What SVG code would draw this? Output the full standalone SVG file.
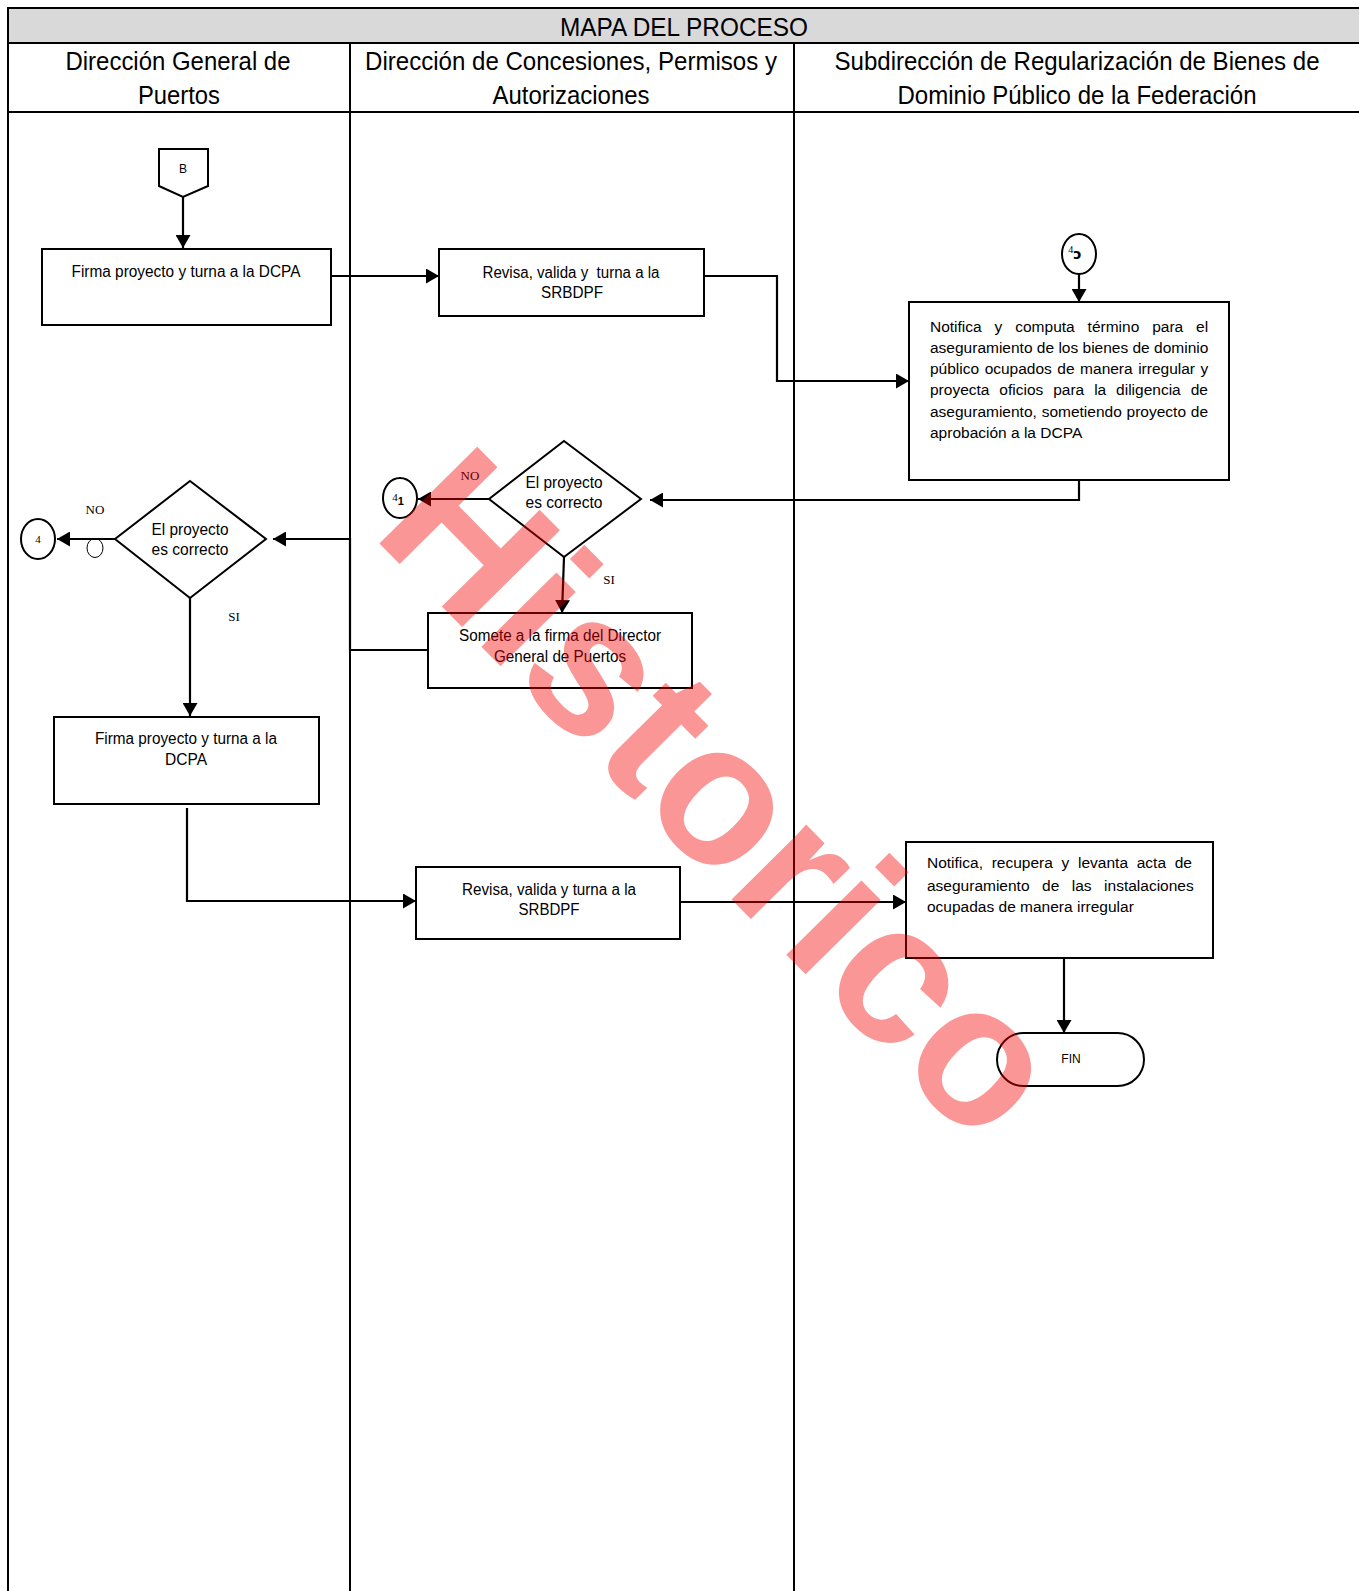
<svg xmlns="http://www.w3.org/2000/svg" width="1359" height="1591" viewBox="0 0 1359 1591">
<style>
.hdr{font-family:"Liberation Sans Narrow","Liberation Sans",Arial,sans-serif;font-size:26px;fill:#000;text-anchor:middle}
.t{font-family:"Liberation Sans Narrow","Liberation Sans",Arial,sans-serif;font-size:16px;fill:#000;text-anchor:middle}
.tl{font-family:"Liberation Sans",Arial,sans-serif;font-size:15.5px;fill:#000}
.sm{font-family:"Liberation Sans",Arial,sans-serif;font-size:12px;fill:#000;text-anchor:middle}
.lbl{font-family:"Liberation Serif","Times New Roman",serif;font-size:13px;fill:#000;text-anchor:middle}
.box{fill:#fff;stroke:#000;stroke-width:2}
.lane{fill:none;stroke:#000;stroke-width:2}
.con{fill:none;stroke:#000;stroke-width:2.2}
.wm{font-family:"Liberation Sans",Arial,sans-serif;font-weight:bold;font-size:200px;fill:#f20000;fill-opacity:0.41}
</style>
<defs>
<marker id="ah" markerUnits="userSpaceOnUse" markerWidth="14" markerHeight="15" refX="13" refY="7.5" orient="auto">
<path d="M0,0 L13,7.5 L0,15 z" fill="#000"/>
</marker>
</defs>
<rect x="0" y="0" width="1359" height="1591" fill="#fff"/>
<g id="table">
<rect x="8" y="8" width="1351" height="35" fill="#d9d9d9"/>
<line class="lane" x1="7" y1="8" x2="1359" y2="8"/>
<line class="lane" x1="8" y1="43" x2="1359" y2="43"/>
<line class="lane" x1="8" y1="8" x2="8" y2="1591"/>
<line class="lane" x1="350" y1="43" x2="350" y2="1591"/>
<line class="lane" x1="794" y1="43" x2="794" y2="1591"/>
<line class="lane" x1="8" y1="112" x2="1359" y2="112"/>
<text class="hdr" x="684" y="36" textLength="248" lengthAdjust="spacingAndGlyphs">MAPA DEL PROCESO</text>
<text class="hdr" x="178" y="70" textLength="225" lengthAdjust="spacingAndGlyphs">Dirección General de</text>
<text class="hdr" x="179" y="104" textLength="82" lengthAdjust="spacingAndGlyphs">Puertos</text>
<text class="hdr" x="571" y="70" textLength="412" lengthAdjust="spacingAndGlyphs">Dirección de Concesiones, Permisos y</text>
<text class="hdr" x="571" y="104" textLength="157" lengthAdjust="spacingAndGlyphs">Autorizaciones</text>
<text class="hdr" x="1077" y="70" textLength="485" lengthAdjust="spacingAndGlyphs">Subdirección de Regularización de Bienes de</text>
<text class="hdr" x="1077" y="104" textLength="359" lengthAdjust="spacingAndGlyphs">Dominio Público de la Federación</text>
</g>
<g id="connectors">
<path class="con" d="M183,197 L183,248" marker-end="url(#ah)"/>
<path class="con" d="M331,276 L439,276" marker-end="url(#ah)"/>
<path class="con" d="M704,276 L777,276 L777,381 L909,381" marker-end="url(#ah)"/>
<path class="con" d="M1079,274 L1079,302" marker-end="url(#ah)"/>
<path class="con" d="M1079,480 L1079,500 L650,500" marker-end="url(#ah)"/>
<path class="con" d="M489,499 L418,499" marker-end="url(#ah)"/>
<path class="con" d="M564,557 L562,613" marker-end="url(#ah)"/>
<path class="con" d="M428,650 L350,650 L350,539 L273,539" marker-end="url(#ah)"/>
<path class="con" d="M115,539 L57,539" marker-end="url(#ah)"/>
<ellipse cx="95" cy="548" rx="8" ry="9.5" fill="none" stroke="#000" stroke-width="1"/>
<path class="con" d="M190,598 L190,716" marker-end="url(#ah)"/>
<path class="con" d="M187,808 L187,901 L416,901" marker-end="url(#ah)"/>
<path class="con" d="M680,902 L906,902" marker-end="url(#ah)"/>
<path class="con" d="M1064,958 L1064,1033" marker-end="url(#ah)"/>
<text class="lbl" x="95" y="514">NO</text>
<text class="lbl" x="234" y="621">SI</text>
<text class="lbl" x="470" y="480">NO</text>
<text class="lbl" x="609" y="584">SI</text>
</g>
<g id="nodeB">
<path d="M159,149 L208,149 L208,186 L183,197 L159,186 Z" class="box"/>
<text class="sm" x="183" y="173">B</text>
</g>
<g id="box1">
<rect class="box" x="42" y="249" width="289" height="76"/>
<text class="t" x="186" y="277" textLength="229" lengthAdjust="spacingAndGlyphs">Firma proyecto y turna a la DCPA</text>
</g>
<g id="box2">
<rect class="box" x="439" y="249" width="265" height="67"/>
<text class="t" x="571" y="278" textLength="177" lengthAdjust="spacingAndGlyphs" xml:space="preserve">Revisa, valida y  turna a la</text>
<text class="t" x="572" y="298" textLength="62" lengthAdjust="spacingAndGlyphs">SRBDPF</text>
</g>
<g id="conn4top">
<ellipse cx="1079" cy="254" rx="17" ry="20" fill="#fff" stroke="#000" stroke-width="2"/>
<text x="1075" y="253" font-family="Liberation Serif,serif" font-size="10" text-anchor="middle">4<tspan font-family="DejaVu Sans,sans-serif" font-weight="bold" font-size="14" dy="6">ɔ</tspan></text>
</g>
<g id="box3">
<rect class="box" x="909" y="302" width="320" height="178"/>
<text class="tl" x="930" y="332" word-spacing="8.6">Notifica y computa término para el</text>
<text class="tl" x="930" y="353">aseguramiento de los bienes de dominio</text>
<text class="tl" x="930" y="374" word-spacing="1.2">público ocupados de manera irregular y</text>
<text class="tl" x="930" y="395" word-spacing="5.6">proyecta oficios para la diligencia de</text>
<text class="tl" x="930" y="417" word-spacing="0.5">aseguramiento, sometiendo proyecto de</text>
<text class="tl" x="930" y="438">aprobación a la DCPA</text>
</g>
<g id="decision2">
<path class="box" d="M564,441 L641,499 L564,557 L489,499 Z"/>
<text class="t" x="564" y="488" textLength="77" lengthAdjust="spacingAndGlyphs">El proyecto</text>
<text class="t" x="564" y="508" textLength="77" lengthAdjust="spacingAndGlyphs">es correcto</text>
</g>
<g id="conn41">
<ellipse cx="400" cy="498" rx="17" ry="20" fill="#fff" stroke="#000" stroke-width="2"/>
<text x="398" y="501" font-family="Liberation Serif,serif" font-size="11" text-anchor="middle">4<tspan font-family="Liberation Sans,sans-serif" font-weight="bold" font-size="11" dy="4">1</tspan></text>
</g>
<g id="box4">
<rect class="box" x="428" y="613" width="264" height="75"/>
<text class="t" x="560" y="641" textLength="202" lengthAdjust="spacingAndGlyphs">Somete a la firma del Director</text>
<text class="t" x="560" y="662" textLength="132" lengthAdjust="spacingAndGlyphs">General de Puertos</text>
</g>
<g id="decision1">
<path class="box" d="M190,481 L266,539 L190,598 L115,539 Z"/>
<text class="t" x="190" y="535" textLength="77" lengthAdjust="spacingAndGlyphs">El proyecto</text>
<text class="t" x="190" y="555" textLength="77" lengthAdjust="spacingAndGlyphs">es correcto</text>
</g>
<g id="conn4left">
<ellipse cx="38" cy="539" rx="17" ry="20" fill="#fff" stroke="#000" stroke-width="2"/>
<text x="38" y="543" font-family="Liberation Serif,serif" font-size="11" text-anchor="middle">4</text>
</g>
<g id="box5">
<rect class="box" x="54" y="717" width="265" height="87"/>
<text class="t" x="186" y="744" textLength="182" lengthAdjust="spacingAndGlyphs">Firma proyecto y turna a la</text>
<text class="t" x="186" y="765" textLength="42" lengthAdjust="spacingAndGlyphs">DCPA</text>
</g>
<g id="box6">
<rect class="box" x="416" y="867" width="264" height="72"/>
<text class="t" x="549" y="895" textLength="174" lengthAdjust="spacingAndGlyphs">Revisa, valida y turna a la</text>
<text class="t" x="549" y="915" textLength="61" lengthAdjust="spacingAndGlyphs">SRBDPF</text>
</g>
<g id="box7">
<rect class="box" x="906" y="842" width="307" height="116"/>
<text class="tl" x="927" y="868" word-spacing="4.4">Notifica, recupera y levanta acta de</text>
<text class="tl" x="927" y="891" word-spacing="8.2">aseguramiento de las instalaciones</text>
<text class="tl" x="927" y="912">ocupadas de manera irregular</text>
</g>
<g id="fin">
<rect class="box" x="997" y="1033" width="147" height="53" rx="26.5" ry="26.5"/>
<text class="sm" x="1071" y="1063">FIN</text>
</g>
<g id="watermark">
<text class="wm" x="0" y="0" transform="translate(370,534) rotate(45.3)">Historico</text>
</g>
</svg>
